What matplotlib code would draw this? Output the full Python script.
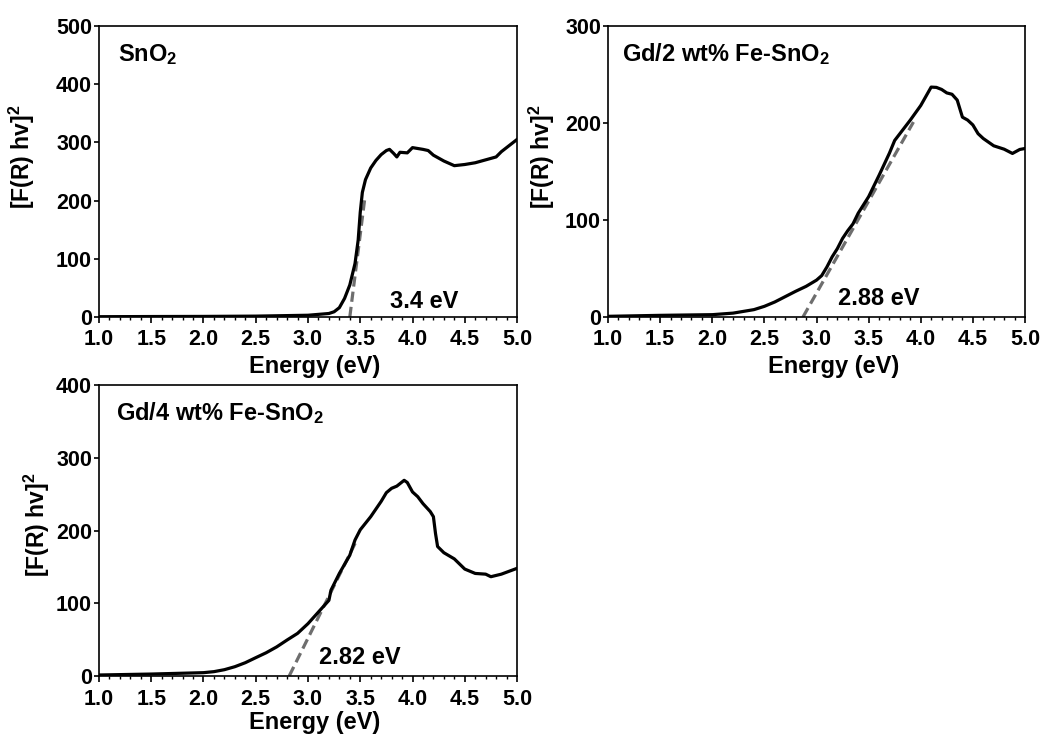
import numpy as np
import matplotlib
matplotlib.use("Agg")
import matplotlib.pyplot as plt
from matplotlib.ticker import MultipleLocator

plt.rcParams['font.family'] = ['Liberation Sans', 'DejaVu Sans']
plt.rcParams['font.weight'] = 'bold'
plt.rcParams['mathtext.fontset'] = 'custom'
plt.rcParams['mathtext.rm'] = 'Liberation Sans:bold'
plt.rcParams['mathtext.bf'] = 'Liberation Sans:bold'
plt.rcParams['mathtext.default'] = 'bf'

# SnO2
e_sno2 = [1.0, 1.5, 2.0, 2.5, 3.0, 3.2, 3.25, 3.3, 3.35, 3.4, 3.45, 3.48, 3.5, 3.52,
          3.55, 3.6, 3.65, 3.7, 3.75, 3.78, 3.82, 3.85, 3.88, 3.95, 4.0, 4.1, 4.15,
          4.2, 4.3, 4.4, 4.5, 4.6, 4.7, 4.8, 4.85, 4.9, 5.0]
y_sno2 = [0.5, 0.8, 1.0, 1.5, 3, 6, 9, 16, 32, 55, 92, 132, 180, 214,
          236, 256, 269, 279, 286, 288, 281, 275, 283, 282, 291, 288, 286,
          278, 268, 260, 262, 265, 270, 275, 284, 291, 305]

# Gd/2 wt% Fe-SnO2
e_fe2 = [1.0, 1.5, 2.0, 2.2, 2.4, 2.5, 2.6, 2.7, 2.8, 2.9, 3.0, 3.05, 3.1, 3.15,
         3.2, 3.25, 3.3, 3.35, 3.4, 3.5, 3.6, 3.7, 3.75, 3.8, 3.9, 4.0, 4.1,
         4.15, 4.2, 4.25, 4.3, 4.35, 4.4, 4.45, 4.5, 4.55, 4.6, 4.7, 4.8, 4.88,
         4.95, 5.0]
y_fe2 = [0.7, 1.7, 2.4, 4, 7.6, 11, 15.5, 21, 26.5, 31.6, 38, 42.7, 51.6, 62,
         70.5, 81, 89, 96, 107, 124, 146, 169, 182, 189, 203, 218, 237,
         236.7, 234.6, 231, 229.6, 223.6, 206, 203, 198, 189, 184, 176.5, 173, 168.6,
         172.7, 173.7]

# Gd/4 wt% Fe-SnO2
e_fe4 = [1.0, 1.5, 2.0, 2.1, 2.2, 2.3, 2.4, 2.5, 2.6, 2.7, 2.8, 2.9, 3.0, 3.1,
         3.2, 3.22, 3.3, 3.4, 3.45, 3.5, 3.6, 3.7, 3.75, 3.8, 3.85, 3.92, 3.95,
         4.0, 4.05, 4.1, 4.17, 4.2, 4.22, 4.24, 4.3, 4.4, 4.5, 4.6, 4.7, 4.75,
         4.85, 5.0]
y_fe4 = [1.4, 2.7, 4.6, 6, 8.7, 12.8, 18.3, 25.2, 32, 40, 49.5, 58.6, 72, 88,
         104, 118, 141, 166, 187, 201, 219, 240, 252, 258, 261, 269, 266,
         253, 246.5, 237, 226, 219, 196, 178, 169.5, 161, 147, 141, 140, 136.5,
         140, 148]

# Tauc fit lines (x0, x1), (y0, y1)
fit_x = [[3.40, 3.545], [2.87, 3.93], [2.82, 3.46]]
fit_y = [[0, 206], [0, 201], [0, 185]]

labels = [r"SnO$_\mathbf{2}$", r"Gd/2 wt% Fe-SnO$_\mathbf{2}$", r"Gd/4 wt% Fe-SnO$_\mathbf{2}$"]
gaps = ["3.4 eV", "2.88 eV", "2.82 eV"]
gap_pos = [(3.78, 15), (3.21, 12), (3.11, 16)]
ymax = [500, 300, 400]
ystep = [100, 100, 100]

fig = plt.figure(figsize=(10.43, 7.36), dpi=100)
rects = [[0.0949, 0.5693, 0.4008, 0.3954],
         [0.5830, 0.5693, 0.3997, 0.3954],
         [0.0949, 0.0815, 0.4008, 0.3954]]
ylab_pos = [(-0.184, 0.55), (-0.159, 0.55), (-0.148, 0.52)]
xlab_pos = [(0.517, -0.17), (0.542, -0.17), (0.517, -0.16)]
title_x = [0.045, 0.033, 0.041]

data = [(e_sno2, y_sno2), (e_fe2, y_fe2), (e_fe4, y_fe4)]

for i in range(3):
    ax = fig.add_axes(rects[i])
    ex, ey = data[i]
    ax.plot(ex, ey, color='black', lw=2.3, zorder=3)
    ax.plot(fit_x[i], fit_y[i], color='#6e6e6e', lw=2.3, ls=(0, (3.2, 1.6)), zorder=2)
    ax.set_xlim(1.0, 5.0)
    ax.set_ylim(0, ymax[i])
    ax.xaxis.set_major_locator(MultipleLocator(0.5))
    ax.xaxis.set_minor_locator(MultipleLocator(0.1))
    ax.yaxis.set_major_locator(MultipleLocator(ystep[i]))
    ax.xaxis.set_major_formatter(plt.FormatStrFormatter('%.1f'))
    ax.tick_params(axis='x', which='major', direction='out', length=4, width=1.2,
                   labelsize=15.5, pad=5)
    ax.tick_params(axis='y', which='major', direction='out', length=3.5, width=1.2,
                   labelsize=15.5, pad=1.5)
    ax.tick_params(axis='x', which='minor', direction='out', length=2.2, width=1.0)
    for s in ax.spines.values():
        s.set_linewidth(1.2)
    for lab in ax.get_xticklabels() + ax.get_yticklabels():
        lab.set_fontweight('bold')
    ax.set_xlabel("Energy (eV)", fontsize=17, fontweight='bold')
    ax.set_ylabel(r"[F(R) hv]$^\mathbf{2}$", fontsize=16.5, fontweight='bold')
    ax.xaxis.set_label_coords(*xlab_pos[i])
    ax.xaxis.label.set_va('center')
    ax.yaxis.set_label_coords(*ylab_pos[i])
    ax.yaxis.label.set_va('center')
    ax.text(title_x[i], 0.88, labels[i], transform=ax.transAxes,
            fontsize=17, fontweight='bold', ha='left', va='baseline')
    ax.text(gap_pos[i][0], gap_pos[i][1], gaps[i], fontsize=17, fontweight='bold',
            ha='left', va='baseline')

fig.savefig("out.png", dpi=100)
